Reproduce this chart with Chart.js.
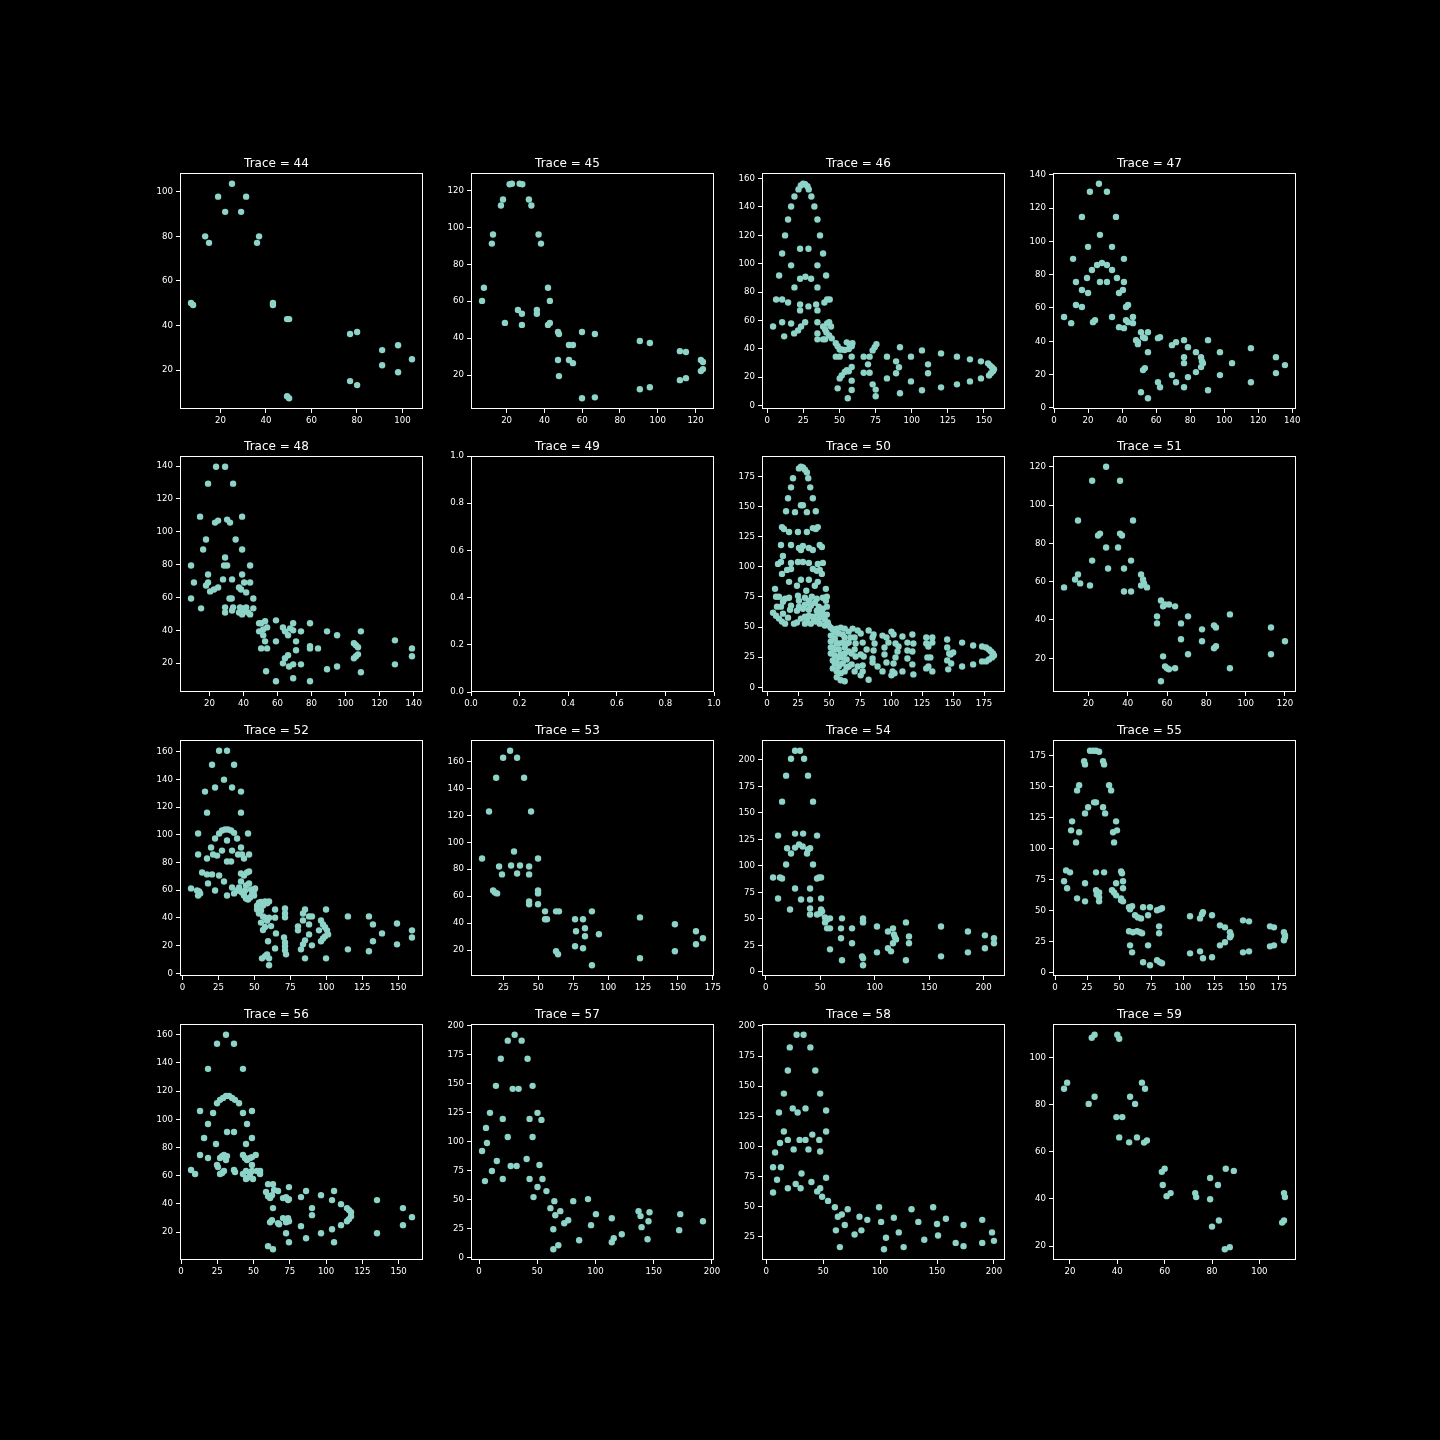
<!DOCTYPE html>
<html><head><meta charset="utf-8">
<script src="https://cdn.jsdelivr.net/npm/chart.js@4/dist/chart.umd.min.js"></script>
<style>
html,body{margin:0;padding:0;background:#000;}
body{width:1440px;height:1440px;position:relative;overflow:hidden;}
.p{position:absolute;}
canvas{display:block;}
</style></head><body>
<script>
// ---- data (x, y pairs) ----
const trace44 = [[25.1,103.6],[19.0,97.8],[31.3,97.8],[22.1,91.0],[29.1,91.0],[13.3,80.0],[15.0,77.1],[37.0,80.0],[36.1,77.1],[7.1,50.1],[8.0,49.2],[43.1,50.1],[43.1,49.2],[49.3,42.9],[50.2,42.9],[77.0,36.2],[80.1,37.1],[91.1,29.0],[98.1,31.2],[104.2,24.9],[91.1,22.2],[98.1,19.1],[77.0,15.1],[80.1,13.3],[49.3,8.3],[50.2,7.4]];
const trace45 = [[21.6,123.3],[22.8,123.6],[26.9,123.6],[28.3,123.3],[18.1,115.1],[17.0,111.8],[31.8,115.1],[33.1,111.8],[12.8,96.1],[12.2,91.2],[36.9,96.1],[38.2,91.2],[8.0,67.3],[7.0,60.2],[41.9,67.3],[42.9,60.2],[26.0,55.3],[28.1,53.2],[19.1,48.3],[28.1,47.2],[36.0,55.3],[36.0,53.2],[41.9,47.2],[42.9,48.3],[47.2,43.4],[47.7,42.3],[53.0,36.3],[55.1,36.3],[53.0,28.2],[55.1,26.5],[47.2,28.2],[47.7,19.5],[59.9,43.4],[66.7,42.3],[59.9,7.5],[66.7,8.0],[90.5,38.5],[95.8,37.4],[111.7,33.0],[114.9,32.5],[122.8,28.2],[123.9,27.1],[122.8,22.2],[123.9,23.3],[111.7,17.3],[114.9,18.4],[90.5,12.4],[95.8,13.5]];
const trace46 = [[21.7,152.3],[23.3,155.1],[24.9,156.3],[26.3,156.0],[27.9,154.6],[28.8,152.3],[18.9,147.3],[30.6,147.3],[16.6,140.3],[32.7,140.3],[14.5,131.1],[34.8,131.1],[12.4,119.9],[36.6,119.9],[10.4,107.2],[38.7,107.2],[22.8,110.5],[28.6,110.5],[16.6,98.8],[34.8,98.8],[8.3,91.7],[40.8,91.7],[22.8,89.4],[26.5,90.8],[30.4,89.4],[18.9,83.3],[34.8,83.3],[6.2,74.8],[10.4,74.8],[14.5,72.7],[22.8,71.3],[22.8,67.1],[28.6,69.9],[33.9,71.3],[34.8,67.1],[39.6,72.7],[41.5,74.8],[43.3,74.8],[4.1,55.8],[10.4,58.7],[16.6,57.9],[11.8,48.8],[18.7,50.9],[21.4,53.0],[23.5,55.8],[26.3,58.7],[34.8,58.7],[34.8,50.9],[34.8,46.7],[38.7,55.8],[40.1,53.7],[41.5,57.9],[42.9,58.7],[44.2,55.8],[41.0,51.6],[42.9,49.5],[44.7,47.4],[40.1,46.7],[38.7,46.7],[47.5,43.9],[48.8,41.8],[50.2,39.6],[51.6,39.6],[47.5,34.5],[50.2,34.5],[55.1,44.6],[57.1,43.2],[58.5,41.8],[56.5,39.9],[53.7,39.2],[59.0,43.9],[58.5,34.5],[58.5,27.2],[50.2,19.2],[51.6,21.3],[53.7,23.7],[55.1,24.9],[56.5,24.2],[48.8,12.2],[58.5,17.6],[58.5,11.0],[55.8,5.2],[66.8,34.5],[70.9,34.5],[66.8,23.2],[70.9,23.2],[69.8,29.1],[73.0,38.9],[74.4,41.1],[75.6,43.2],[73.0,15.0],[75.1,11.3],[75.1,6.6],[82.9,34.5],[82.9,19.2],[89.2,31.2],[89.2,22.8],[91.2,27.0],[91.9,41.1],[91.9,8.7],[99.5,34.5],[99.5,17.1],[107.1,38.9],[107.1,10.8],[111.3,29.1],[111.3,22.8],[120.3,36.8],[120.3,12.9],[131.3,34.5],[131.3,15.0],[140.3,32.6],[140.3,17.1],[147.9,31.2],[147.9,19.2],[152.8,29.8],[154.1,28.4],[155.5,27.0],[156.9,25.6],[156.2,24.2],[154.8,22.8],[153.5,21.3]];
const trace47 = [[26.4,134.6],[21.1,129.8],[31.1,129.8],[16.4,114.7],[36.4,114.7],[27.0,103.9],[20.0,96.7],[34.1,96.7],[11.2,89.5],[41.1,89.5],[22.3,82.8],[25.3,85.8],[28.2,87.0],[31.1,85.8],[34.1,82.8],[12.9,75.6],[19.4,78.0],[27.0,75.6],[31.1,75.6],[37.0,78.0],[41.1,75.6],[16.4,70.8],[20.0,69.0],[38.2,69.0],[40.5,70.8],[12.9,61.8],[16.4,60.6],[42.3,60.6],[43.5,61.8],[5.9,54.6],[10.1,50.9],[22.9,51.5],[24.1,52.7],[34.1,54.6],[38.2,48.5],[41.1,47.9],[42.3,52.7],[43.5,51.5],[46.4,54.6],[46.4,50.9],[48.2,40.7],[49.3,38.3],[49.3,39.5],[51.1,45.5],[52.3,42.5],[53.4,41.9],[55.2,45.5],[55.2,33.5],[52.3,22.7],[53.4,23.9],[51.1,9.4],[55.2,5.8],[61.1,41.9],[62.3,42.5],[61.1,15.4],[62.3,12.4],[69.3,37.7],[71.7,39.5],[69.3,19.7],[71.7,15.4],[76.4,40.7],[76.4,30.5],[76.4,26.9],[78.7,36.5],[78.7,18.5],[76.4,12.4],[83.4,33.5],[83.4,21.5],[86.4,30.5],[86.9,28.1],[87.5,26.9],[86.4,24.5],[90.5,40.7],[90.5,10.6],[97.5,33.5],[97.5,19.7],[104.6,26.9],[115.7,35.9],[115.7,15.4],[130.4,30.5],[130.4,20.9],[135.7,25.7]];
const trace48 = [[23.9,139.6],[29.2,139.6],[19.2,129.3],[33.9,129.3],[14.5,109.2],[39.2,109.2],[23.3,105.6],[25.1,106.8],[30.4,107.4],[32.1,105.6],[18.0,95.3],[35.4,95.3],[16.3,89.2],[39.2,89.2],[29.2,84.3],[9.2,79.5],[28.6,79.5],[30.4,79.5],[43.9,79.5],[19.2,74.0],[39.2,74.0],[10.9,69.1],[19.2,69.1],[28.0,71.0],[33.3,71.0],[18.0,67.3],[20.4,63.7],[22.7,64.9],[25.1,66.1],[37.4,66.1],[38.6,64.9],[40.4,69.1],[41.6,63.1],[43.9,69.1],[9.2,59.4],[31.8,59.4],[33.1,59.4],[45.8,59.4],[15.1,53.4],[29.2,54.0],[29.2,50.9],[33.3,52.1],[33.9,54.0],[37.4,50.9],[39.2,49.7],[40.4,53.4],[41.6,54.0],[42.7,50.9],[43.9,49.7],[45.8,53.4],[38.0,54.0],[39.8,52.1],[49.2,44.3],[50.4,44.3],[52.7,45.5],[49.2,39.4],[51.6,40.6],[53.9,41.8],[51.6,37.0],[52.7,33.3],[50.4,29.0],[53.9,29.0],[53.3,15.1],[59.1,46.1],[59.1,33.3],[59.1,9.0],[63.2,41.8],[64.4,39.4],[66.2,37.0],[67.4,41.2],[69.2,44.3],[69.2,40.0],[70.9,33.3],[70.9,27.9],[63.2,19.9],[64.4,23.0],[66.2,24.8],[66.8,18.0],[69.2,19.3],[69.2,10.8],[73.8,39.4],[73.8,19.3],[79.1,44.3],[79.1,30.3],[79.1,29.0],[83.8,29.0],[79.1,9.0],[89.1,39.4],[89.1,16.3],[95.0,37.0],[95.0,18.0],[104.9,32.1],[106.1,30.9],[107.3,29.7],[104.9,23.0],[106.1,24.2],[107.3,25.4],[109.0,39.4],[109.0,14.5],[129.0,33.9],[129.0,19.3],[139.0,29.0],[139.0,24.2]];
const trace49 = [];
const trace50 = [[25.7,181.6],[27.3,183.0],[28.9,182.5],[30.5,180.5],[32.1,178.3],[20.9,173.4],[33.2,173.4],[19.3,165.9],[34.8,165.9],[16.9,156.9],[36.9,156.9],[15.3,146.1],[22.5,145.3],[27.3,151.1],[28.9,151.1],[32.1,145.3],[39.3,146.1],[12.0,132.9],[13.6,131.3],[17.7,128.8],[24.9,128.8],[32.1,128.8],[36.9,132.1],[39.3,131.3],[40.9,132.9],[11.2,118.1],[19.3,118.1],[25.7,115.6],[28.9,117.2],[33.7,115.6],[36.9,113.9],[42.5,118.1],[44.2,116.4],[12.8,109.0],[27.3,113.9],[8.8,102.4],[11.2,104.0],[19.3,103.2],[24.9,104.0],[28.9,104.0],[33.7,103.2],[40.9,102.4],[45.0,103.2],[16.1,97.4],[19.3,98.2],[36.9,98.2],[40.1,96.6],[42.5,97.4],[12.0,94.1],[44.2,94.1],[17.7,87.5],[27.3,89.2],[33.7,89.2],[40.9,87.5],[24.1,84.2],[38.5,84.2],[6.4,81.7],[47.4,81.7],[31.6,80.1],[9.6,75.1],[14.5,73.5],[17.7,74.3],[24.9,75.9],[30.5,74.3],[36.1,75.1],[40.1,73.5],[45.0,74.3],[7.2,75.1],[48.2,75.1],[12.8,71.0],[25.7,71.8],[33.7,71.8],[38.5,70.2],[47.4,71.8],[8.0,66.9],[11.2,66.9],[19.3,67.7],[25.7,66.9],[30.5,68.5],[35.3,67.7],[41.7,66.9],[48.2,66.9],[18.5,64.4],[24.1,63.6],[28.9,65.2],[33.7,64.4],[40.1,63.6],[45.0,65.2],[4.8,61.9],[7.2,59.4],[9.6,57.0],[12.0,54.5],[14.5,52.8],[12.8,61.1],[16.9,57.8],[21.7,52.8],[24.1,53.7],[27.3,57.0],[30.5,58.6],[33.7,59.4],[36.9,58.6],[40.9,61.1],[44.2,62.7],[30.5,52.8],[35.3,52.8],[39.3,54.5],[41.7,57.0],[45.0,58.6],[48.2,60.3],[46.6,56.1],[49.0,53.7],[49.8,51.2],[32.1,56.1],[37.7,56.1],[42.5,52.8],[46.6,51.2],[51.4,49.5],[53.0,47.9],[56.2,48.7],[59.4,49.5],[62.6,48.7],[54.6,45.4],[57.8,44.6],[61.0,43.8],[51.4,42.9],[54.6,40.5],[62.6,41.3],[51.4,38.0],[56.2,36.3],[61.0,37.1],[53.0,33.0],[57.8,31.4],[62.6,33.0],[51.4,28.1],[54.6,26.4],[59.4,27.2],[62.6,28.1],[53.0,22.3],[56.2,20.6],[61.0,19.8],[64.2,23.1],[53.0,15.7],[56.2,13.2],[59.4,11.6],[62.6,13.2],[56.2,8.3],[59.4,5.8],[62.6,5.0],[54.6,19.8],[57.8,17.3],[64.2,16.5],[65.8,46.2],[65.8,37.1],[65.8,29.7],[65.8,17.3],[67.4,41.3],[64.2,36.3],[57.8,36.3],[54.6,31.4],[51.4,33.0],[61.0,24.8],[57.8,24.8],[69.0,48.7],[73.1,47.1],[70.6,41.3],[75.5,44.6],[71.4,36.3],[77.1,37.1],[70.6,31.4],[80.3,31.4],[68.2,28.1],[71.4,25.6],[75.5,27.2],[77.9,25.6],[68.2,19.0],[73.1,17.3],[77.1,18.2],[70.6,13.2],[75.5,9.9],[77.1,13.2],[81.9,6.3],[81.9,47.1],[85.1,41.3],[86.7,36.3],[85.9,30.5],[85.1,23.9],[85.1,20.6],[89.1,17.3],[85.9,43.8],[93.1,42.9],[94.7,33.0],[94.7,27.2],[96.3,20.6],[93.1,13.2],[96.3,41.3],[97.9,37.1],[100.3,46.2],[102.0,43.8],[103.6,36.3],[105.2,29.7],[103.6,24.8],[102.0,19.8],[101.2,13.2],[100.3,9.9],[102.8,11.6],[109.2,42.1],[109.2,13.2],[106.0,33.8],[113.2,37.1],[113.2,30.5],[113.2,23.9],[117.2,43.8],[118.0,36.3],[117.2,29.7],[117.2,19.0],[118.0,10.7],[128.4,36.3],[130.1,33.8],[129.3,24.8],[130.1,17.3],[133.3,41.3],[133.3,37.1],[133.3,13.2],[131.7,24.8],[128.4,41.3],[128.4,15.7],[145.3,39.6],[145.3,33.0],[146.9,28.1],[145.3,22.3],[146.1,14.9],[148.0,27.2],[150.1,28.9],[148.5,19.8],[157.3,37.1],[157.3,17.3],[166.2,34.7],[166.2,19.0],[173.4,33.8],[173.4,21.5],[176.6,33.0],[179.0,31.4],[180.6,29.7],[182.2,28.1],[183.0,26.4],[181.4,24.8],[179.0,23.1],[176.6,21.5]];
const trace51 = [[29.0,120.0],[21.9,112.7],[36.1,112.7],[14.7,91.9],[42.7,91.9],[24.9,84.1],[25.9,85.1],[36.1,85.1],[37.1,84.1],[29.0,77.8],[35.1,77.8],[21.9,71.0],[41.7,71.0],[30.0,66.9],[38.1,66.9],[7.6,57.0],[13.2,61.1],[14.7,63.8],[15.8,59.1],[20.8,58.0],[38.1,54.9],[41.7,54.9],[46.8,63.8],[47.8,61.1],[48.3,59.1],[46.8,58.0],[49.8,57.0],[56.9,50.2],[58.0,47.1],[59.0,48.1],[61.0,48.1],[64.1,47.1],[54.9,41.9],[54.9,38.2],[67.1,38.2],[70.7,41.9],[67.1,29.9],[70.7,22.1],[58.0,21.0],[59.0,15.8],[60.0,14.8],[61.0,14.3],[64.1,14.8],[56.9,8.0],[77.8,35.1],[77.8,28.9],[83.9,37.2],[84.9,36.1],[83.9,25.2],[84.9,26.3],[92.0,42.9],[92.0,14.8],[112.9,36.1],[112.9,22.1],[120.0,28.9]];
const trace52 = [[25.5,160.7],[31.0,160.7],[20.6,150.6],[35.9,150.6],[28.9,139.8],[22.7,134.1],[34.5,134.1],[15.7,131.2],[40.7,131.2],[17.1,116.0],[40.7,116.0],[10.9,100.9],[45.6,100.9],[25.5,100.9],[27.5,103.1],[29.6,103.8],[31.7,103.8],[33.8,103.1],[35.9,101.4],[38.0,97.3],[22.7,97.3],[31.0,95.9],[19.9,90.8],[40.7,90.8],[21.3,85.8],[24.1,85.0],[27.5,88.6],[34.5,88.6],[38.7,85.8],[41.4,85.8],[42.8,82.9],[46.3,85.8],[10.9,85.8],[17.1,82.9],[31.0,80.7],[33.8,80.7],[13.7,72.8],[17.1,71.4],[20.6,71.4],[25.5,70.6],[28.9,66.3],[17.8,64.9],[22.7,59.8],[6.0,61.3],[10.2,59.8],[11.6,59.1],[12.3,57.7],[10.9,56.2],[31.0,56.2],[34.5,62.0],[35.9,57.7],[38.7,59.8],[40.7,72.1],[42.8,70.6],[44.9,72.8],[46.3,73.5],[40.7,66.3],[46.3,64.9],[41.4,58.4],[42.8,56.2],[44.2,54.0],[45.6,53.3],[47.0,54.7],[48.4,56.9],[49.8,59.8],[50.5,61.3],[49.8,56.2],[39.4,62.0],[38.0,59.8],[43.5,59.8],[44.2,63.4],[47.7,60.5],[51.9,46.1],[53.2,43.2],[54.6,45.4],[56.0,49.0],[57.4,51.9],[58.8,50.5],[60.2,51.9],[56.0,41.0],[57.4,40.2],[54.6,36.6],[58.8,38.0],[60.2,40.2],[56.0,31.3],[57.4,33.4],[61.6,34.1],[64.4,40.2],[64.4,46.1],[51.9,48.8],[53.2,50.9],[54.6,51.6],[71.3,46.8],[71.3,43.2],[71.3,40.4],[65.0,28.8],[59.5,23.1],[64.4,18.0],[55.3,10.8],[57.4,12.3],[58.8,13.7],[60.2,10.8],[60.2,5.8],[70.6,25.9],[71.3,22.3],[71.3,19.5],[71.3,16.6],[72.0,13.7],[80.3,33.9],[80.3,31.0],[83.8,43.2],[85.2,46.1],[83.8,38.2],[88.0,41.1],[90.0,41.1],[88.0,35.3],[88.0,28.1],[85.2,23.8],[83.8,20.9],[82.4,17.3],[90.0,20.2],[85.2,10.8],[96.3,38.2],[97.7,35.3],[99.1,33.2],[100.5,31.0],[101.2,28.1],[99.1,26.7],[97.7,25.2],[96.3,23.1],[94.9,31.0],[99.8,46.1],[99.8,10.8],[115.0,41.1],[115.0,17.3],[129.6,41.1],[132.4,35.3],[129.6,15.9],[132.4,23.1],[138.7,28.8],[149.1,36.0],[149.1,20.9],[159.5,31.0],[159.5,25.9]];
const trace53 = [[29.8,167.9],[24.8,162.7],[34.8,162.7],[19.8,147.9],[39.8,147.9],[14.7,122.8],[44.8,122.8],[9.7,88.0],[49.8,88.0],[32.6,93.2],[21.9,82.1],[30.5,82.8],[36.9,82.8],[43.4,82.1],[24.0,76.2],[34.8,76.9],[43.4,76.2],[17.6,64.3],[19.0,62.8],[20.5,62.1],[49.8,64.3],[49.8,62.1],[43.4,56.2],[43.4,54.0],[49.8,54.0],[54.8,48.8],[54.8,42.9],[56.2,42.9],[62.7,48.8],[64.8,48.8],[62.7,19.2],[64.1,17.0],[76.3,42.9],[82.0,42.9],[88.4,48.8],[77.0,34.0],[83.4,36.2],[83.4,30.3],[93.4,31.8],[76.3,22.9],[82.0,21.4],[88.4,8.8],[122.8,44.3],[122.8,14.0],[147.8,39.2],[147.8,19.2],[162.9,34.0],[162.9,24.4],[167.9,28.8]];
const trace54 = [[26.9,208.5],[31.5,208.5],[23.2,200.9],[35.2,200.9],[18.7,185.0],[38.8,185.0],[15.0,160.5],[43.4,160.5],[11.3,128.5],[47.1,128.5],[26.9,130.4],[34.3,130.4],[19.6,116.6],[23.2,111.6],[26.9,117.2],[30.6,120.1],[33.9,118.2],[37.9,111.6],[38.8,115.4],[40.7,116.6],[18.7,101.3],[43.4,101.3],[6.7,89.0],[13.1,89.0],[15.0,88.1],[47.1,88.1],[48.9,89.0],[50.8,89.0],[26.9,78.7],[40.7,78.7],[11.3,69.3],[32.4,68.3],[40.7,68.3],[50.8,69.3],[40.7,59.9],[50.8,58.9],[22.3,58.9],[40.7,54.2],[47.1,54.2],[49.8,55.2],[51.7,57.1],[54.4,51.4],[56.3,49.5],[59.0,50.5],[54.4,46.7],[56.3,41.1],[59.0,41.1],[59.0,21.3],[70.0,50.5],[69.1,41.1],[69.1,31.7],[70.0,11.0],[79.2,41.1],[79.2,27.0],[89.3,50.5],[89.3,47.6],[89.3,46.7],[88.4,14.7],[89.3,12.9],[89.3,6.3],[102.1,42.9],[102.1,18.5],[112.2,38.2],[116.8,41.1],[117.7,35.4],[118.7,32.6],[119.6,30.7],[116.8,27.0],[115.0,19.4],[112.2,22.3],[128.7,46.7],[131.5,33.5],[131.5,27.0],[128.7,11.0],[160.9,42.9],[160.9,14.7],[185.6,38.2],[185.6,18.5],[201.2,34.5],[201.2,22.3],[209.5,31.7],[209.5,27.0]];
const trace55 = [[27.3,178.7],[29.7,178.7],[32.0,178.7],[34.4,177.9],[22.7,170.2],[23.4,167.7],[37.5,170.2],[38.3,167.7],[18.8,150.9],[17.2,146.8],[42.2,150.9],[43.8,146.8],[30.5,137.2],[32.0,137.2],[25.8,133.2],[23.4,128.3],[37.5,133.2],[39.1,128.3],[13.3,121.9],[12.5,114.7],[18.8,113.1],[16.4,105.0],[47.7,121.9],[48.4,114.7],[45.3,113.1],[46.1,105.0],[8.6,82.5],[11.7,80.9],[7.0,73.7],[9.4,68.1],[17.2,60.0],[23.4,72.1],[23.4,57.6],[32.0,80.9],[38.3,80.9],[32.0,66.5],[34.4,64.8],[32.6,63.2],[34.4,60.8],[34.4,57.6],[44.5,66.5],[46.1,64.8],[47.7,62.4],[47.7,72.1],[51.6,81.7],[52.3,80.1],[53.1,73.7],[53.1,68.1],[51.6,60.0],[53.1,57.6],[51.6,58.4],[57.8,52.8],[58.6,51.2],[60.2,53.6],[62.5,46.4],[64.8,44.7],[67.2,43.9],[68.8,52.8],[74.2,52.8],[72.7,46.4],[79.7,50.4],[82.0,51.2],[83.6,52.0],[57.8,33.5],[60.9,32.7],[64.1,33.5],[66.4,32.7],[68.0,31.9],[81.3,37.5],[81.3,31.9],[58.6,22.2],[60.2,16.6],[72.7,22.2],[68.8,8.6],[74.2,6.2],[79.7,10.2],[82.0,8.6],[83.6,7.8],[105.5,45.6],[105.5,15.8],[113.3,43.9],[114.8,47.2],[115.6,48.8],[113.3,17.4],[115.6,11.8],[122.7,46.4],[122.7,12.6],[128.9,38.3],[132.8,36.7],[136.7,32.7],[137.5,30.3],[136.7,28.7],[132.8,24.7],[128.9,22.2],[146.9,42.3],[151.6,41.5],[146.9,16.6],[151.6,17.4],[168.0,37.5],[171.1,36.7],[168.0,21.4],[171.1,22.2],[178.9,32.7],[178.9,26.3],[179.7,30.3],[179.7,28.7]];
const trace56 = [[31.0,160.0],[24.8,153.6],[36.5,153.6],[18.6,135.8],[42.7,135.8],[24.8,111.4],[22.1,104.5],[13.1,105.9],[48.9,105.9],[42.7,104.5],[18.6,96.7],[45.5,96.7],[26.9,113.8],[29.0,115.2],[31.0,116.6],[33.1,116.6],[35.2,115.2],[37.2,113.8],[40.0,111.4],[31.7,91.0],[36.5,91.0],[15.9,86.7],[48.9,86.7],[24.1,82.5],[44.8,82.5],[13.1,74.7],[18.6,72.5],[26.9,72.5],[28.3,73.9],[29.6,74.7],[31.7,73.9],[31.0,71.1],[42.7,74.7],[44.1,72.5],[45.5,71.1],[47.6,72.5],[48.9,73.2],[51.5,74.7],[24.8,67.6],[25.5,66.1],[26.9,61.2],[28.3,61.9],[29.6,63.3],[36.5,64.0],[37.2,62.6],[6.9,64.0],[9.7,61.2],[42.7,61.2],[44.8,63.3],[45.5,58.3],[47.6,61.2],[48.9,67.6],[48.9,63.3],[49.6,57.6],[52.4,63.3],[54.5,63.3],[54.5,61.2],[44.8,57.6],[60.0,54.0],[63.4,54.0],[58.6,48.4],[60.0,45.5],[61.4,44.1],[62.7,46.2],[64.1,49.8],[63.4,37.0],[61.4,27.0],[62.7,28.4],[66.9,49.1],[70.3,44.1],[72.4,44.8],[74.4,51.9],[74.4,43.4],[73.8,42.7],[67.6,25.6],[66.9,26.3],[70.3,29.9],[72.4,28.4],[73.8,29.9],[74.4,27.7],[72.4,27.0],[72.4,19.2],[74.4,12.8],[60.0,10.0],[63.4,7.8],[82.7,44.8],[86.2,49.1],[82.7,24.2],[86.2,15.6],[90.3,37.0],[90.3,32.0],[96.5,46.2],[96.5,19.2],[104.1,42.7],[105.5,49.1],[104.1,22.0],[105.5,12.8],[110.3,39.8],[110.3,24.9],[114.4,37.0],[115.8,35.6],[117.2,34.1],[117.2,31.3],[115.8,29.2],[114.4,27.7],[135.1,42.7],[135.1,19.2],[153.0,37.0],[153.0,24.9],[159.2,30.6]];
const trace57 = [[30.6,192.0],[24.7,186.9],[36.6,186.9],[18.7,171.3],[41.7,171.3],[14.5,147.9],[46.0,147.9],[28.9,145.3],[34.0,145.3],[9.4,124.6],[50.2,124.6],[20.4,119.4],[43.4,119.4],[24.7,103.8],[46.0,103.8],[6.0,111.6],[53.6,118.5],[2.6,91.7],[6.8,98.6],[11.1,74.4],[5.1,65.7],[15.3,83.0],[27.2,78.7],[32.3,78.7],[40.9,84.8],[20.4,67.5],[43.4,67.5],[51.9,79.6],[54.5,67.5],[50.2,60.6],[57.9,57.1],[46.8,51.9],[64.7,48.4],[61.3,42.4],[65.5,36.3],[69.8,39.8],[73.2,29.4],[63.8,24.2],[68.1,10.4],[63.8,6.9],[80.9,48.4],[76.6,32.0],[86.0,14.7],[93.6,50.2],[96.2,27.7],[100.4,37.2],[114.0,33.7],[114.0,13.0],[115.7,16.4],[122.6,19.9],[137.0,39.8],[138.7,35.5],[139.6,26.0],[145.5,31.1],[144.7,15.6],[146.4,38.9],[172.8,37.2],[171.9,23.4],[192.3,31.1]];
const trace58 = [[26.7,192.7],[32.8,192.7],[20.7,182.2],[38.8,182.2],[19.0,163.0],[43.1,163.0],[15.5,143.9],[47.4,143.9],[23.3,131.6],[34.5,131.6],[27.6,128.2],[11.2,128.2],[52.6,129.9],[15.5,112.5],[52.6,112.5],[29.3,105.5],[34.5,105.5],[40.5,109.9],[19.0,105.5],[12.1,102.9],[46.6,105.5],[7.8,95.0],[12.9,82.8],[24.1,97.6],[37.1,97.6],[47.4,95.9],[6.0,82.8],[9.5,72.4],[25.9,68.9],[30.2,65.4],[39.7,70.6],[47.4,65.4],[19.0,65.4],[6.0,61.9],[31.0,77.6],[52.6,74.1],[44.8,62.8],[49.1,58.4],[54.3,54.9],[60.3,49.7],[62.9,41.8],[66.4,43.6],[69.0,34.9],[61.2,30.5],[64.7,16.6],[71.6,48.0],[81.9,41.8],[77.6,27.0],[83.6,30.5],[88.8,39.2],[99.1,49.7],[100.9,37.5],[105.2,24.4],[103.4,14.8],[112.1,41.0],[116.4,28.8],[120.7,16.6],[127.6,48.0],[133.6,37.5],[138.8,22.7],[146.6,49.7],[150.0,35.7],[150.9,26.2],[157.8,40.1],[166.4,20.1],[173.3,34.9],[173.3,17.4],[189.7,39.2],[189.7,20.1],[198.3,28.8],[200.0,21.8]];
const trace59 = [[17.5,86.7],[18.8,89.3],[27.9,80.3],[30.4,83.3],[29.2,108.3],[30.4,109.6],[40.0,109.6],[40.8,107.9],[39.6,74.7],[42.1,74.7],[40.8,66.1],[45.0,64.0],[45.4,83.3],[47.5,80.3],[50.4,89.3],[51.7,86.7],[48.3,66.1],[51.3,63.9],[52.5,64.8],[58.8,51.5],[60.0,52.8],[59.2,45.9],[60.8,41.2],[62.5,42.5],[72.9,42.5],[73.3,40.8],[79.2,48.9],[79.2,39.9],[82.5,45.9],[80.0,28.3],[82.9,30.9],[85.4,18.7],[87.5,19.6],[85.8,52.8],[89.2,51.9],[110.4,42.5],[110.8,40.8],[109.6,30.0],[110.4,30.9]];

// ---- tick labels ----
const xTicks44 = [20,40,60,80,100],        yTicks44 = [20,40,60,80,100];
const xTicks45 = [20,40,60,80,100,120],    yTicks45 = [20,40,60,80,100,120];
const xTicks46 = [0,25,50,75,100,125,150], yTicks46 = [0,20,40,60,80,100,120,140,160];
const xTicks47 = [0,20,40,60,80,100,120,140], yTicks47 = [0,20,40,60,80,100,120,140];
const xTicks48 = [20,40,60,80,100,120,140], yTicks48 = [20,40,60,80,100,120,140];
const xTicks49 = [0,0.2,0.4,0.6,0.8,1.0],  yTicks49 = [0,0.2,0.4,0.6,0.8,1.0];
const xTicks50 = [0,25,50,75,100,125,150,175], yTicks50 = [0,25,50,75,100,125,150,175];
const xTicks51 = [20,40,60,80,100,120],    yTicks51 = [20,40,60,80,100,120];
const xTicks52 = [0,25,50,75,100,125,150], yTicks52 = [0,20,40,60,80,100,120,140,160];
const xTicks53 = [25,50,75,100,125,150,175], yTicks53 = [20,40,60,80,100,120,140,160];
const xTicks54 = [0,50,100,150,200],       yTicks54 = [0,25,50,75,100,125,150,175,200];
const xTicks55 = [0,25,50,75,100,125,150,175], yTicks55 = [0,25,50,75,100,125,150,175];
const xTicks56 = [0,25,50,75,100,125,150], yTicks56 = [0,20,40,60,80,100,120,140,160];
const xTicks57 = [0,50,100,150,200],       yTicks57 = [0,25,50,75,100,125,150,175,200];
const xTicks58 = [0,50,100,150,200],       yTicks58 = [0,25,50,75,100,125,150,175,200];
const xTicks59 = [20,40,60,80,100],        yTicks59 = [20,40,60,80,100];

const traceIds = [44,45,46,47,48,49,50,51,52,53,54,55,56,57,58,59];
const traceData = [trace44,trace45,trace46,trace47,trace48,trace49,trace50,trace51,trace52,trace53,trace54,trace55,trace56,trace57,trace58,trace59];
const xTickSets = [xTicks44,xTicks45,xTicks46,xTicks47,xTicks48,xTicks49,xTicks50,xTicks51,xTicks52,xTicks53,xTicks54,xTicks55,xTicks56,xTicks57,xTicks58,xTicks59];
const yTickSets = [yTicks44,yTicks45,yTicks46,yTicks47,yTicks48,yTicks49,yTicks50,yTicks51,yTicks52,yTicks53,yTicks54,yTicks55,yTicks56,yTicks57,yTicks58,yTicks59];

// ---- layout ----
const COL_LEFT = [180, 471, 762, 1053];
const ROW_TOP = [173, 456, 740, 1024];
const AX_W = 243, AX_H = 236;
const PAD_L = 50, PAD_R = 25, PAD_T = 30, PAD_B = 30;
const DOT = '#8dd3c7';
const FONT = 'DejaVu Sans';

function limits(vals){
  if (!vals.length) return [0,1];
  const lo = Math.min(...vals), hi = Math.max(...vals);
  const m = (hi - lo) * 0.05;
  return [lo - m, hi + m];
}

const framePlugin = {
  id: 'frame',
  afterDatasetsDraw(chart){
    const a = chart.chartArea, c = chart.ctx;
    c.save();
    c.strokeStyle = '#ffffff';
    c.lineWidth = 1;
    c.strokeRect(a.left + 0.5, a.top + 0.5, a.right - a.left - 1, a.bottom - a.top - 1);
    c.restore();
  }
};

traceIds.forEach((id, i) => {
  const col = i % 4, row = Math.floor(i / 4);
  const div = document.createElement('div');
  div.className = 'p';
  div.style.left = (COL_LEFT[col] - PAD_L) + 'px';
  div.style.top = (ROW_TOP[row] - PAD_T) + 'px';
  const cv = document.createElement('canvas');
  const cw = PAD_L + AX_W + PAD_R, ch = PAD_T + AX_H + PAD_B;
  cv.width = cw; cv.height = ch;
  cv.style.width = cw + 'px'; cv.style.height = ch + 'px';
  div.appendChild(cv);
  document.body.appendChild(div);

  const pts = traceData[i].map(p => ({x: p[0], y: p[1]}));
  const [xmin, xmax] = limits(traceData[i].map(p => p[0]));
  const [ymin, ymax] = limits(traceData[i].map(p => p[1]));
  const xt = xTickSets[i], yt = yTickSets[i];
  const isUnit = traceData[i].length === 0;
  const fmt = v => isUnit ? Number(v).toFixed(1) : String(v);

  const axisCommon = (ticksArr, lo, hi) => ({
    type: 'linear', min: lo, max: hi,
    border: {display: false},
    grid: {display: true, drawOnChartArea: false, drawTicks: true, tickLength: 4, tickColor: '#ffffff', tickWidth: 1},
    ticks: {color: '#ffffff', font: {family: FONT, size: 8.6}, padding: 3, autoSkip: false, maxRotation: 0, minRotation: 0, callback: v => fmt(v)},
    afterBuildTicks: s => { s.ticks = ticksArr.filter(v => v >= lo - 1e-9 && v <= hi + 1e-9).map(v => ({value: v})); }
  });

  const xAxis = axisCommon(xt, xmin, xmax);
  xAxis.afterFit = s => { s.height = PAD_B; };
  const yAxis = axisCommon(yt, ymin, ymax);
  yAxis.afterFit = s => { s.width = PAD_L; };

  new Chart(cv, {
    type: 'scatter',
    data: {datasets: [{data: pts, backgroundColor: DOT, borderWidth: 0, pointRadius: 3.2, pointHoverRadius: 3.2}]},
    options: {
      responsive: false, animation: false, devicePixelRatio: 1,
      layout: {padding: {left: 0, right: PAD_R, top: 0, bottom: 0}},
      plugins: {
        legend: {display: false}, tooltip: {enabled: false},
        title: {display: true, text: 'Trace = ' + id, color: '#ffffff',
                font: {family: FONT, size: 12, weight: 'normal', lineHeight: 1},
                padding: {top: 15, bottom: 3}}
      },
      scales: {x: xAxis, y: yAxis}
    },
    plugins: [framePlugin]
  });
});
</script>
</body></html>
